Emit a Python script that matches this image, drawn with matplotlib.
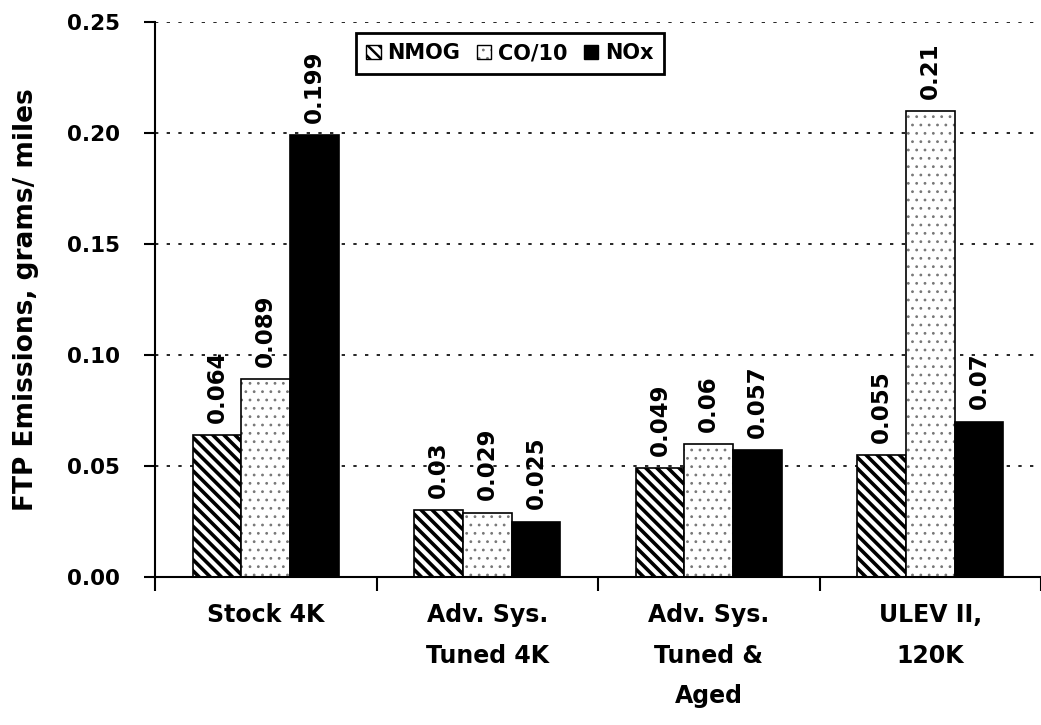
import numpy as np
import matplotlib
matplotlib.use('Agg')
import matplotlib.pyplot as plt
from matplotlib.patches import Patch
from matplotlib.legend_handler import HandlerTuple

categories = ['Stock 4K', 'Adv. Sys.\nTuned 4K', 'Adv. Sys.\nTuned &\nAged', 'ULEV II,\n120K']
nmog = [0.064, 0.03, 0.049, 0.055]
co10 = [0.089, 0.029, 0.06, 0.21]
nox = [0.199, 0.025, 0.057, 0.07]
yticks = [0.00, 0.05, 0.10, 0.15, 0.20, 0.25]

plt.rcParams['font.family'] = 'DejaVu Sans'
plt.rcParams['font.weight'] = 'bold'

fig = plt.figure(figsize=(10.41, 7.25), dpi=100)
ax = fig.add_axes([155 / 1041, 148 / 725, 886 / 1041, 555 / 725])

x = np.arange(len(categories))
w = 0.22

# NMOG: dense diagonal hatch
plt.rcParams['hatch.linewidth'] = 2.6
ax.bar(x - w, nmog, w, color='white', edgecolor='black', hatch='\\\\\\', linewidth=1.2)
h_nmog = Patch(facecolor='white', edgecolor='black', hatch='\\\\\\', linewidth=1)

# CO/10: small grey dots, black outline drawn on top
plt.rcParams['hatch.linewidth'] = 0.8
ax.bar(x, co10, w, color='white', edgecolor='#777777', hatch='..', linewidth=0)
ax.bar(x, co10, w, fill=False, edgecolor='black', linewidth=1.2)
h_co_fill = Patch(facecolor='white', edgecolor='#777777', hatch='..', linewidth=0)
h_co_edge = Patch(fill=False, edgecolor='black', linewidth=1)

# NOx: solid black
ax.bar(x + w, nox, w, color='black', edgecolor='black', linewidth=1.2)
h_nox = Patch(facecolor='black', edgecolor='black')

for series, off in [(nmog, -w), (co10, 0), (nox, w)]:
    for xi, v in zip(x, series):
        ax.text(xi + off, v + 0.0055, str(v), rotation=90, ha='center', va='bottom',
                fontsize=16.5, fontweight='bold')

ax.set_ylim(0, 0.25)
ax.set_xlim(-0.5, -0.5 + 886 / 224.3)
ax.set_yticks(yticks)
ax.set_yticklabels([f'{t:.2f}' for t in yticks], fontsize=15.5, fontweight='bold')
ax.set_xticks(x)
ax.set_xticklabels(categories, fontsize=17, fontweight='bold', linespacing=1.85, va='top')
ax.tick_params(axis='x', length=0, pad=19)
ax.set_xticks(np.arange(len(categories) + 1) - 0.5, minor=True)
ax.tick_params(axis='x', which='minor', length=10, width=1.5, direction='out')
ax.tick_params(axis='y', length=8, width=1.5, direction='out', pad=17)

for t in yticks[1:]:
    ax.axhline(t, color='black', linestyle=(0, (2, 5)), linewidth=1.2, zorder=0)

ax.spines['top'].set_visible(False)
ax.spines['right'].set_visible(False)
ax.spines['left'].set_linewidth(1.5)
ax.spines['bottom'].set_linewidth(1.5)

ax.set_ylabel('FTP Emissions, grams/ miles', fontsize=19, fontweight='bold', labelpad=20)

leg = ax.legend([h_nmog, (h_co_fill, h_co_edge), h_nox], ['NMOG', 'CO/10', 'NOx'],
                handler_map={tuple: HandlerTuple(ndivide=1)},
                loc='upper left', bbox_to_anchor=(201 / 886, 1 - 11 / 555), ncol=3,
                borderaxespad=0, fancybox=False, framealpha=1, edgecolor='black',
                fontsize=15, handlelength=0.7, handleheight=0.7, handletextpad=0.3,
                columnspacing=0.8, borderpad=0.5)
leg.get_frame().set_linewidth(2)
for t in leg.get_texts():
    t.set_fontweight('bold')
hl = leg.legend_handles[0]
if hasattr(hl, 'set_hatch_linewidth'):
    hl.set_hatch_linewidth(1.8)

fig.savefig('out.png', dpi=100)
